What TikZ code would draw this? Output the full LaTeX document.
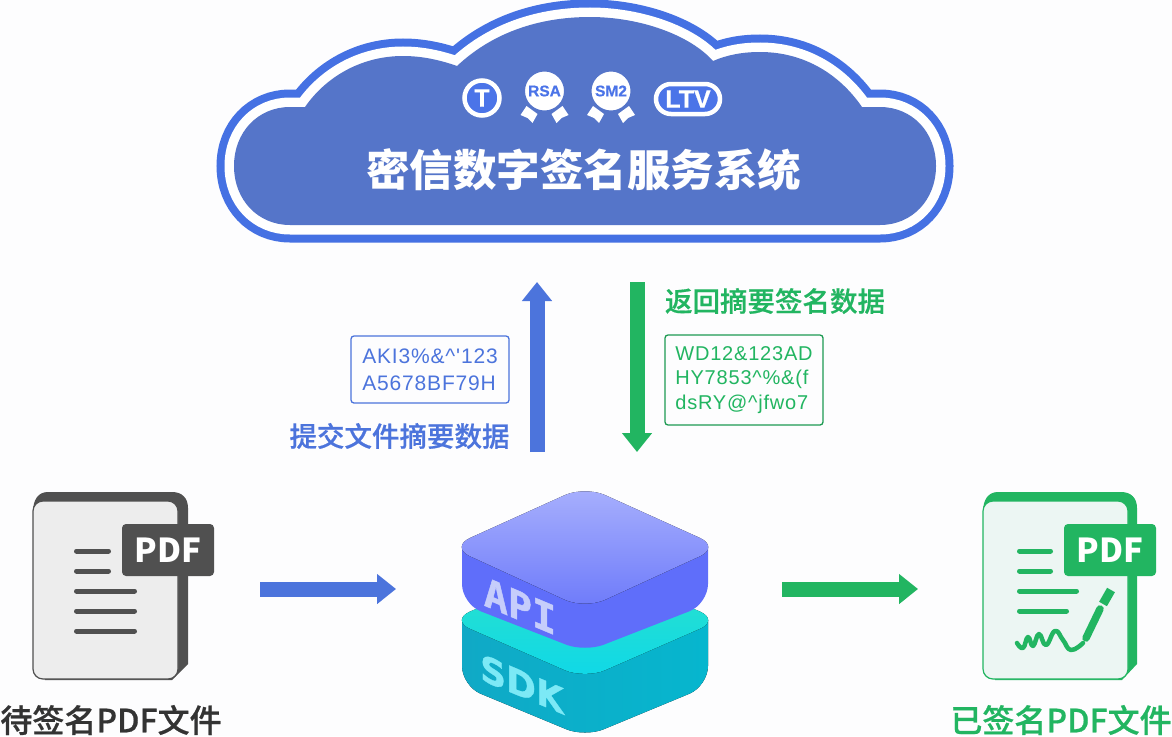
\documentclass[tikz,border=0pt]{standalone}
\usepackage{fontspec}
\setmainfont{Liberation Sans}[BoldFeatures={FakeBold=0.6}]
\newfontfamily\cjk{Noto Sans CJK SC}
\newfontfamily\cjkmed{Noto Sans CJK SC Medium}[FakeBold=0.6]
\newfontfamily\dejavu{DejaVu Sans}[BoldFeatures={FakeBold=0.8}]
\newfontfamily\dejamono{DejaVu Sans Mono}[BoldFeatures={FakeBold=1.2}]
\newfontfamily\codefont[LetterSpace=4]{Liberation Sans}
\usetikzlibrary{arrows.meta,positioning}
\definecolor{paper}{HTML}{FDFDFE}
\definecolor{cloudfill}{HTML}{5575C9}
\definecolor{cloudring}{HTML}{4571E3}
\definecolor{iconblue}{HTML}{4B74E8}
\definecolor{textblue}{HTML}{4C74DC}
\definecolor{textgreen}{HTML}{22B561}
\definecolor{docdark}{HTML}{505050}
\definecolor{sheetgreen}{HTML}{ECF6F3}
\definecolor{apiside}{HTML}{5F6EFA}
\definecolor{apiback}{HTML}{A8B0FD}
\definecolor{apifront}{HTML}{6D7AFA}
\definecolor{apitext}{HTML}{C6CDFB}
\definecolor{sdkleft}{HTML}{10A9C6}
\definecolor{sdkright}{HTML}{06B6CE}
\definecolor{sdkback}{HTML}{2DE2C8}
\definecolor{sdkfront}{HTML}{0FD8E8}
\definecolor{sdktext}{HTML}{7CE9F6}

\begin{document}
\begin{tikzpicture}[x=1pt,y=-1pt,
      title/.style={font=\cjk\bfseries\fontsize{43.5}{46}\selectfont, text=white, inner sep=0pt},
      caption/.style={font=\cjkmed\fontsize{27.5}{30}\selectfont, inner sep=0pt},
      filelabel/.style={font=\cjkmed\fontsize{32}{34}\selectfont, inner sep=0pt},
      codebox/.style={rectangle, draw, fill=paper, line width=1.3pt, rounded corners=3pt, minimum width=158pt, align=left, inner sep=0pt},
      pdftag/.style={rectangle, rounded corners=4pt, minimum width=92pt, minimum height=52pt, inner sep=0pt, text=white, font=\cjk\bfseries\fontsize{33}{35}\selectfont},
      medal/.style={circle, draw=cloudfill, fill=white, line width=2pt, minimum size=41pt, inner sep=0pt, text=iconblue, font=\bfseries\fontsize{15.5}{16}\selectfont},
      slant/.style={transform shape, yslant=-0.42, inner sep=0pt},
      blockblue/.style={draw=textblue, line width=15pt, -{Triangle[length=19pt,width=29pt]}},
      blockgreen/.style={draw=textgreen, line width=15pt, -{Triangle[length=19pt,width=29pt]}},
      textline/.style={line width=5pt, line cap=round}]

\useasboundingbox (0,0) rectangle (1172,736);
\fill[paper] (0,0) rectangle (1172,736);

% cloud
\def\cloudpath{(290,225) -- (880,225) .. controls (912,225) and (936,200) .. (936,166) .. controls (936,132) and (912,107) .. (880,107) -- (862,107) .. controls (840,75) and (805,52) .. (760,52) .. controls (742,52) and (727,55) .. (713,61) .. controls (690,35) and (640,17) .. (590,17) .. controls (535,17) and (490,35) .. (457,66) .. controls (440,60) and (422,56) .. (403,56) .. controls (360,56) and (325,78) .. (305,107) -- (290,107) .. controls (258,107) and (234,132) .. (234,166) .. controls (234,200) and (258,225) .. (290,225) -- cycle}
\draw[cloudring, line width=35pt] \cloudpath;
\draw[white, line width=19pt] \cloudpath;
\fill[cloudfill] \cloudpath;

\node[title] (cloudtitle) at (583.5,170) {密信数字签名服务系统};
\node[circle, draw=white, fill=iconblue, line width=4.5pt, minimum size=35pt, inner sep=0pt, text=white, font=\bfseries\fontsize{25}{26}\selectfont] (tsa) at (482,98) {T};
\foreach \cx in {544.5,611}
  \fill[white, shift={(\cx,0)}] (-18,106) -- (-7,114) -- (-12,123) -- (-17,118) -- (-24,115) -- cycle
    (18,106) -- (7,114) -- (12,123) -- (17,118) -- (24,115) -- cycle;
\node[medal] (rsa) at (544.5,91) {RSA};
\node[medal] (smtwo) at (611,91) {SM2};
\node[rectangle, draw=white, fill=iconblue, line width=4.5pt, rounded corners=15pt, minimum width=64pt, minimum height=30pt, inner sep=0pt, text=white, font=\bfseries\fontsize{25}{26}\selectfont] (ltv) at (688,99) {LTV};

% arrows up and down
\coordinate (upstart) at (537,452);
\coordinate (upend) at (537,282);
\coordinate (downstart) at (637,282);
\coordinate (downend) at (637,452);
\draw[blockblue] (upstart) -- (upend);
\draw[blockgreen] (downstart) -- (downend);

\node[codebox, draw=textblue, text=textblue, minimum height=67pt, font=\codefont\fontsize{21}{27}\selectfont] (digest) at (430,369.5) {AKI3\%\&\textasciicircum'123\\A5678BF79H};
\node[codebox, draw=textgreen!85!black, text=textgreen, minimum height=90pt, font=\codefont\fontsize{20}{24.5}\selectfont] (signed) at (744,380) {WD12\&123AD\\HY7853\textasciicircum\%\&(f\\dsRY@\textasciicircum jfwo7};
\node[caption, text=textblue] (submit) at (399.5,436) {提交文件摘要数据};
\node[caption, text=textgreen] (return) at (775,301) {返回摘要签名数据};

% left document
\fill[docdark] (33,512) .. controls (33,500) and (38,492) .. (48,492) -- (172,492) .. controls (182,492) and (188,498) .. (188,508) -- (188,664) -- (172,680) -- (45,680) -- cycle;
\draw[docdark, fill=black!7, line width=1.2pt, rounded corners=10pt] (33,501) rectangle (178,679);
\node[pdftag, fill=docdark] (tagin) at (168,550) {PDF};
\draw[textline, docdark] (76.5,551) -- (108.5,551);
\draw[textline, docdark] (76.5,571) -- (108.5,571);
\foreach \ly in {591,611,631}
  \draw[textline, docdark] (76.5,\ly) -- (134.5,\ly);
\node[filelabel, text=black!80] (infile) at (111,720) {待签名PDF文件};

% right document
\fill[textgreen] (983,512) .. controls (983,500) and (988,492) .. (998,492) -- (1121,492) .. controls (1131,492) and (1137,498) .. (1137,508) -- (1137,664) -- (1122,680) -- (995,680) -- cycle;
\draw[textgreen, fill=sheetgreen, line width=1.2pt, rounded corners=10pt] (983,501) rectangle (1128,679);
\node[pdftag, fill=textgreen] (tagout) at (1110,550) {PDF};
\draw[textline, textgreen] (1019.5,551) -- (1050.5,551);
\draw[textline, textgreen] (1019.5,571) -- (1050.5,571);
\draw[textline, textgreen] (1019.5,591) -- (1076.5,591);
\draw[textline, textgreen] (1019.5,611) -- (1066.5,611);
\draw[textgreen, line width=4.5pt, line cap=round, line join=round] plot[smooth, tension=0.8] coordinates {(1017,643) (1023,648) (1028,637) (1033,646) (1039,634) (1046,645) (1055,631) (1063,640) (1071,650) (1083,643)};
\draw[textgreen, line width=7.5pt, line cap=round] (1086,638) -- (1100,609);
\draw[textgreen, line width=9pt] (1103,604) -- (1111,590);
\node[filelabel, text=textgreen] (outfile) at (1061,720) {已签名PDF文件};

% sdk block
\fill[left color=sdkleft, right color=sdkright] (462,620) -- (708,620) [rounded corners=20pt] -- (708,686) -- (585,737) -- (462,686) [sharp corners] -- cycle;
\fill[rounded corners=22pt, top color=sdkback, bottom color=sdkfront] (585,563) -- (720,620) -- (585,679) -- (450,620) -- cycle;
\node[slant, font=\dejavu\bfseries\fontsize{36}{36}\selectfont, text=sdktext] (sdk) at (522,684) {SDK};

% api block
\fill[apiside] (462,547) -- (708,547) [rounded corners=20pt] -- (708,604) -- (585,652) -- (462,604) [sharp corners] -- cycle;
\fill[rounded corners=22pt, top color=apiback, bottom color=apifront] (585,486) -- (720,547) -- (585,609) -- (450,547) -- cycle;
\node[slant, font=\dejamono\bfseries\fontsize{40}{40}\selectfont, text=apitext] (api) at (520,606) {API};

% arrows left and right
\coordinate (instart) at (260,589);
\coordinate (inend) at (396,589);
\coordinate (outstart) at (782,589);
\coordinate (outend) at (918,589);
\draw[blockblue] (instart) -- (inend);
\draw[blockgreen] (outstart) -- (outend);

\end{tikzpicture}
\end{document}
